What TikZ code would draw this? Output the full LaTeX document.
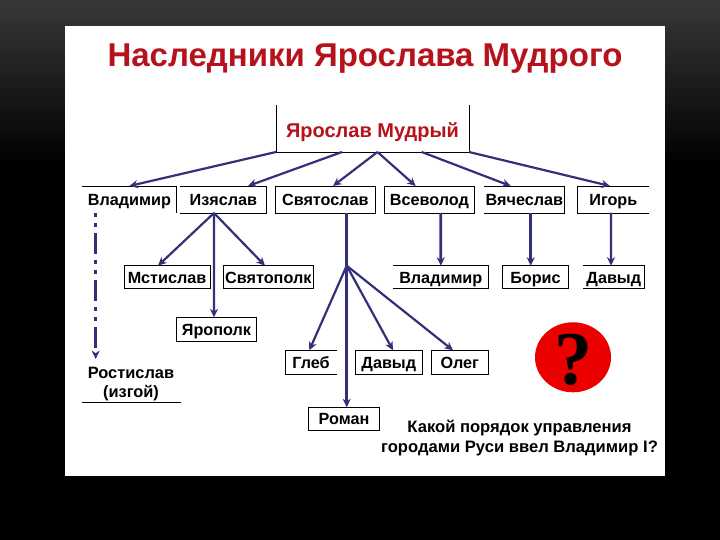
\documentclass[tikz,border=0pt]{standalone}
\usepackage{fontspec}
\setmainfont{Liberation Sans}
\newfontfamily\qfont{Liberation Serif}
\usetikzlibrary{arrows.meta,calc,shapes.geometric}
\definecolor{arrowblue}{HTML}{33307A}
\definecolor{titlered}{HTML}{B5121B}
\tikzset{
  lbl/.style={inner sep=0pt,outer sep=0pt,font=\bfseries\fontsize{16.2}{19}\selectfont,text=black,align=center,text height=11.8pt,text depth=0pt},
  low/.style={text height=13.8pt},
  full/.style={draw=black,line width=0.9pt},
  edge/.style={draw=black,line width=0.9pt,line cap=rect},
  arr/.style={draw=arrowblue,line width=2.2pt,-{Stealth[length=8.5pt,width=8pt]}},
}
% \bx{name}{x1}{y1}{x2}{y2}{text}{style}
\newcommand{\bx}[7]{\node[lbl,#7,minimum width=#4pt-#2pt,minimum height=#5pt-#3pt,anchor=center] (#1) at ({(#2+#4)/2},{(#3+#5)/2}) {#6};}
\begin{document}
\begin{tikzpicture}[x=1pt,y=-1pt]
\useasboundingbox (0,0) rectangle (720,540);
\fill[black] (0,0) rectangle (720,540);
\shade[top color=black!78,bottom color=black] (0,0) rectangle (720,165);
\fill[white] (65,26) rectangle (665,476);

\node[inner sep=0pt,anchor=base,font=\bfseries\fontsize{33}{36}\selectfont,text=titlered] (title) at (365,67) {Наследники Ярослава Мудрого};

% first level
\bx{root}{276}{105}{469}{152}{\fontsize{20}{22}\selectfont\textcolor{titlered}{Ярослав Мудрый}}{text height=17.3pt}
\draw[edge] (root.north west) -- (root.south west) -- (root.south east) -- (root.north east);
\bx{vlad}{82}{186}{176.7}{213}{Владимир}{}
\draw[edge] (vlad.north west) -- (vlad.north east) -- (vlad.south east);
\bx{izya}{180}{186}{266.7}{213}{Изяслав}{}
\draw[edge] (izya.north west) -- (izya.north east) -- (izya.south east) -- (izya.south west);
\bx{svya}{275.7}{186}{375}{213}{Святослав}{full}
\bx{vsev}{384.3}{186}{474.3}{213}{Всеволод}{full}
\bx{vyac}{484}{186}{564.7}{213}{Вячеслав}{}
\draw[edge] (vyac.north west) -- (vyac.north east) -- (vyac.south east) -- (vyac.south west);
\bx{igor}{577.7}{186}{649}{213}{Игорь}{}
\draw[edge] (igor.north east) -- (igor.north west) -- (igor.south west) -- (igor.south east);

% second level
\bx{msti}{124.3}{265.7}{210}{288.3}{Мстислав}{full,low}
\bx{spol}{223.3}{265.7}{313.3}{288.3}{Святополк}{full,low}
\bx{vla2}{393.3}{265.7}{488.3}{288.3}{Владимир}{low}
\draw[edge] (vla2.north west) -- (vla2.north east) -- (vla2.south east) -- (vla2.south west);
\bx{bori}{502.7}{265.7}{568.3}{288.3}{Борис}{full,low}
\bx{dav1}{583.3}{265.7}{644.3}{288.3}{Давыд}{low}
\draw[edge] (dav1.north west) -- (dav1.north east) -- (dav1.south east) -- (dav1.south west);

\bx{yaro}{176.3}{317.3}{256.7}{341.7}{Ярополк}{full}
\bx{gleb}{285.3}{350.3}{336.7}{374.3}{Глеб}{}
\draw[edge] (gleb.north east) -- (gleb.north west) -- (gleb.south west) -- (gleb.south east);
\bx{dav2}{355.3}{350.3}{422.3}{374.3}{Давыд}{full}
\bx{oleg}{431.3}{350.3}{488.3}{374.3}{Олег}{full}
\bx{roma}{308.3}{407.3}{379.7}{430.3}{Роман}{full}

\node[inner sep=0pt,align=center,font=\bfseries\fontsize{16.4}{19}\selectfont,anchor=base] (rost) at (131,397) {Ростислав\\(изгой)};
\coordinate (rostl) at (82,402.3);
\coordinate (rostr) at (181,402.3);
\draw[edge] (rostl) -- (rostr);

% connectors
\draw[arr] (root.south west) -- (vlad.north);
\draw[arr] ([xshift=-30.5pt]root.south) -- ([xshift=24.65pt]izya.north);
\draw[arr] ([xshift=5pt]root.south) -- ([xshift=7.65pt]svya.north);
\draw[arr] ([xshift=5pt]root.south) -- ([xshift=-13.6pt]vsev.north);
\draw[arr] ([xshift=49.2pt]root.south) -- ([xshift=-13.65pt]vyac.north);
\draw[arr] (root.south east) -- ([xshift=-3.35pt]igor.north);

\coordinate (izyaj) at ([xshift=-9.35pt]izya.south);
\draw[arr] (izyaj) -- ([xshift=-9.15pt]msti.north);
\draw[arr] (izyaj) -- ([xshift=-3.3pt]spol.north);
\draw[arr] (izyaj) -- ([xshift=-2.5pt]yaro.north);

\coordinate (svyaj) at (346.7,265.7);
\draw[arr,line width=2.6pt] ([xshift=21.35pt]svya.south) -- ([xshift=2.7pt]roma.north);
\draw[arr] (svyaj) -- ([xshift=-1.7pt]gleb.north);
\draw[arr] (svyaj) -- ([xshift=4.2pt]dav2.north);
\draw[arr] (svyaj) -- ([xshift=-6.8pt]oleg.north);

\draw[arr,line width=2.6pt] ([xshift=11.4pt]vsev.south) -- ([xshift=0pt]vla2.north);
\draw[arr,line width=2.6pt] ([xshift=6.35pt]vyac.south) -- ([xshift=-4.8pt]bori.north);
\draw[arr] ([xshift=-2.35pt]igor.south) -- ([xshift=-2.8pt]dav1.north);
\coordinate (rostt) at (95.7,359);
\draw[arr,line width=2.6pt,dash pattern=on 4pt off 6pt on 4pt off 6pt on 21pt off 6pt] ([xshift=-33.65pt]vlad.south) -- (rostt);

% question
\node[ellipse,draw=none,fill=red!92!black,minimum width=76pt,minimum height=70pt,inner sep=0pt] (qc) at (573,357.3) {};
\node[inner sep=0pt,font=\qfont\bfseries\fontsize{76}{76}\selectfont,text=black,anchor=center] (qm) at (573,360) {?};

\node[inner sep=0pt,align=center,anchor=base,font=\bfseries\fontsize{16.6}{20}\selectfont] (q) at (519.5,452.7) {Какой порядок управления\\городами Руси ввел Владимир I?};
\end{tikzpicture}
\end{document}
